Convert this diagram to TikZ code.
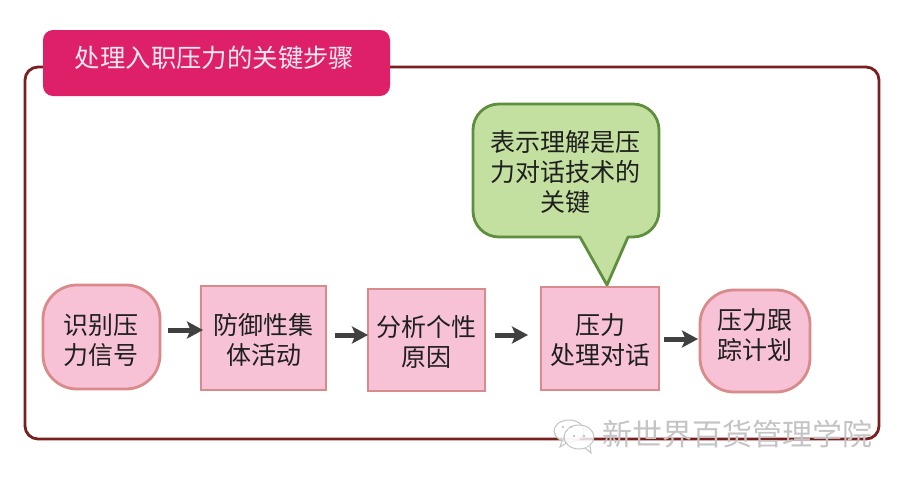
\documentclass[tikz,border=0pt]{standalone}
\usepackage{fontspec}
\setmainfont{Noto Sans CJK SC}
\usetikzlibrary{arrows.meta}
\definecolor{framec}{HTML}{7A1F1F}
\definecolor{titlec}{HTML}{DD2068}
\definecolor{pinkf}{HTML}{F8C2D6}
\definecolor{pinkd}{HTML}{D98A8A}
\definecolor{greenf}{HTML}{C3E0A0}
\definecolor{greend}{HTML}{5F8F3E}
\definecolor{arrowc}{HTML}{404040}
\definecolor{markc}{HTML}{C4C4C4}
\tikzset{
  frameline/.style={draw=framec,line width=2.8pt,rounded corners=13pt},
  boxbase/.style={draw=pinkd,fill=pinkf,line width=2pt,inner sep=0pt,outer sep=0pt},
  squarebox/.style={boxbase},
  roundbox/.style={boxbase,rounded corners=34pt,line width=2.8pt},
  txt/.style={align=center,text=black!88,inner sep=0pt,font=\fontsize{25}{30}\selectfont},
  flow/.style={draw=arrowc,line width=5pt,-{Stealth[length=16pt,width=17pt,inset=3.5pt]}},
  bubble/.style={draw=greend,fill=greenf,line width=2.8pt,line join=round},
  wmark/.style={draw=markc,fill=white,fill opacity=0.8,line width=1pt},
}
\begin{document}
\begin{tikzpicture}[x=1pt,y=-1pt]
\useasboundingbox (0,0) rectangle (900,480);
\fill[white] (0,0) rectangle (900,480);
% frame
\draw[frameline] (25,67) rectangle (879,439);
% title
\node[fill=titlec,rounded corners=10pt,minimum width=347pt,minimum height=66pt,inner sep=0pt] (title) at (216.5,63) {};
\node[text=white!90!titlec,font=\fontsize{25.4}{30}\selectfont,inner sep=0pt] (titletext) at (214.5,58) {处理入职压力的关键步骤};
% callout
\draw[bubble] (499,104) -- (633,104)
  .. controls (647.4,104) and (659,115.6) .. (659,130) -- (659,211)
  .. controls (659,225.4) and (647.4,237) .. (633,237) -- (628,237)
  -- (607,285) -- (580,237) -- (499,237)
  .. controls (484.6,237) and (473,225.4) .. (473,211) -- (473,130)
  .. controls (473,115.6) and (484.6,104) .. (499,104) -- cycle;
\node[txt] (calltext) at (565,172) {表示理解是压\\力对话技术的\\关键};
% boxes
\node[roundbox,minimum width=117pt,minimum height=104pt] (n1) at (101.5,337) {};
\node[squarebox,minimum width=125pt,minimum height=104pt] (n2) at (263.5,338) {};
\node[squarebox,minimum width=117pt,minimum height=102pt] (n3) at (426.5,340) {};
\node[squarebox,minimum width=118pt,minimum height=103pt] (n4) at (600,338.5) {};
\node[roundbox,minimum width=110pt,minimum height=102pt] (n5) at (755,341) {};
\node[txt] (t1) at (100.5,340) {识别压\\力信号};
\node[txt] (t2) at (263.5,340) {防御性集\\体活动};
\node[txt] (t3) at (426.5,342) {分析个性\\原因};
\node[txt] (t4) at (600,340) {压力\\处理对话};
\node[txt] (t5) at (755,335) {压力跟\\踪计划};
% arrows
\draw[flow] ([xshift=8pt,yshift=7pt]n1.east) -- ([xshift=2pt,yshift=8pt]n2.west);
\draw[flow] ([xshift=9pt,yshift=3pt]n2.east) -- ([yshift=5pt]n3.west);
\draw[flow] ([xshift=10pt,yshift=5pt]n3.east) -- ([xshift=-13pt,yshift=3.5pt]n4.west);
\draw[flow] ([xshift=5pt,yshift=-0.5pt]n4.east) -- ([xshift=-2pt,yshift=2pt]n5.west);
% watermark
\draw[wmark] (569,431) ellipse[x radius=15,y radius=11];
\draw[wmark] (562,441) -- (560,447) -- (568,442);
\draw[wmark] (579,437) ellipse[x radius=15,y radius=12];
\draw[wmark] (585,448) -- (591,453) -- (590,446);
\fill[markc] (563,427) circle (1.4) (571,427) circle (1.4) (574,436) circle (1.3) (584,436) circle (1.3);
\node[text=markc,font=\fontsize{30}{34}\selectfont,inner sep=0pt] (wm) at (737,434) {新世界百货管理学院};
\end{tikzpicture}
\end{document}
